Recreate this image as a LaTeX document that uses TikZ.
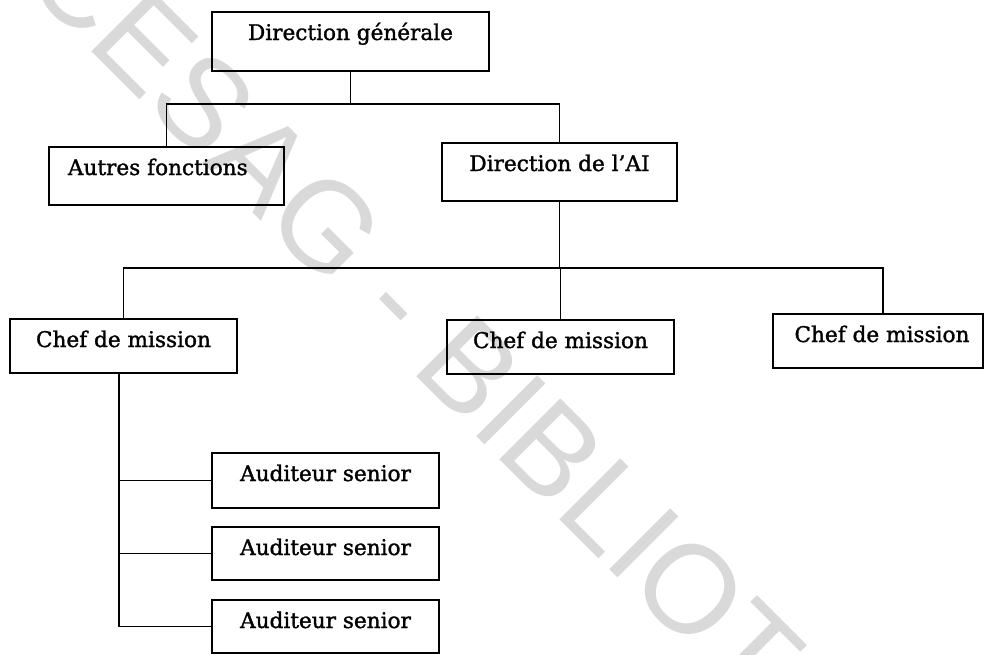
\documentclass[tikz,border=0pt]{standalone}
\usepackage{fontspec}
\setmainfont{DejaVu Serif}
\newfontfamily\labelfont{DejaVu Serif}[FakeBold=1.4]
\newfontfamily\wmfont{Liberation Sans}
\definecolor{wmgray}{RGB}{217,217,217}
\begin{document}
\begin{tikzpicture}[x=0.75pt, y=-0.75pt,
  % unit box: width and depth below the baseline are given per box
  box/.style 2 args={draw, line width=1.1pt, inner sep=0pt,
    minimum width=#1, text height=21pt, text depth=#2,
    font=\labelfont\fontsize{16.2pt}{20pt}\selectfont},
  link/.style={line width=1pt},
  watermark/.style={rotate=-45, anchor=base west, inner sep=0pt,
    text=wmgray, font=\wmfont\fontsize{94pt}{94pt}\selectfont}]
\useasboundingbox (0,0) rectangle (984,654);
\clip (0,0) rectangle (984,654);

% library stamp across the page
\node[watermark] (stamp) at (20,-20) {CESAG - BIBLIOTHEQUE};

% top level
\node[box={207.75pt}{23.25pt}] (dg) at (350.5,41.5) {Direction générale};
\node[box={176.25pt}{22.5pt}] (af) at (166.5,176) {Autres fonctions\hspace*{13pt}};
\node[box={176.25pt}{22.5pt}] (ai) at (559.5,172) {Direction de l’AI};

% mission heads
\node[box={170.25pt}{19.5pt}] (cm1) at (123.5,346) {Chef de mission};
\node[box={170.25pt}{19.5pt}] (cm2) at (560.5,347) {Chef de mission};
\node[box={157.5pt}{19.5pt}] (cm3) at (878,341) {\hspace*{6pt}Chef de mission};

% senior auditors
\node[box={170.25pt}{20.25pt}] (au1) at (325.5,480.5) {Auditeur senior};
\node[box={170.25pt}{18.75pt}] (au2) at (325.5,553.5) {Auditeur senior};
\node[box={170.25pt}{18.75pt}] (au3) at (325.5,626.5) {Auditeur senior};

% bus lines and drop points
\coordinate (b1) at (0,104);
\coordinate (b2) at (0,268);
\coordinate (d3) at (883,268);
\coordinate (spine) at (119,0);

% general management to its two branches
\draw[link] (dg.south) -- (dg.south |- b1);
\draw[link] (af.north) -- (af.north |- b1) -- (ai.north |- b1) -- (ai.north);

% internal audit to the mission heads
\draw[link] (ai.south) -- (ai.south |- b2);
\draw[link] (cm1.north) -- (cm1.north |- b2) -- (d3) -- (d3 |- cm3.north);
\draw[link] (cm2.north) -- (cm2.north |- b2);

% first mission head to the auditors
\draw[link] (spine |- cm1.south) -- (spine |- au3.west) -- (au3.west);
\draw[link] (spine |- au1.west) -- (au1.west);
\draw[link] (spine |- au2.west) -- (au2.west);
\end{tikzpicture}
\end{document}
